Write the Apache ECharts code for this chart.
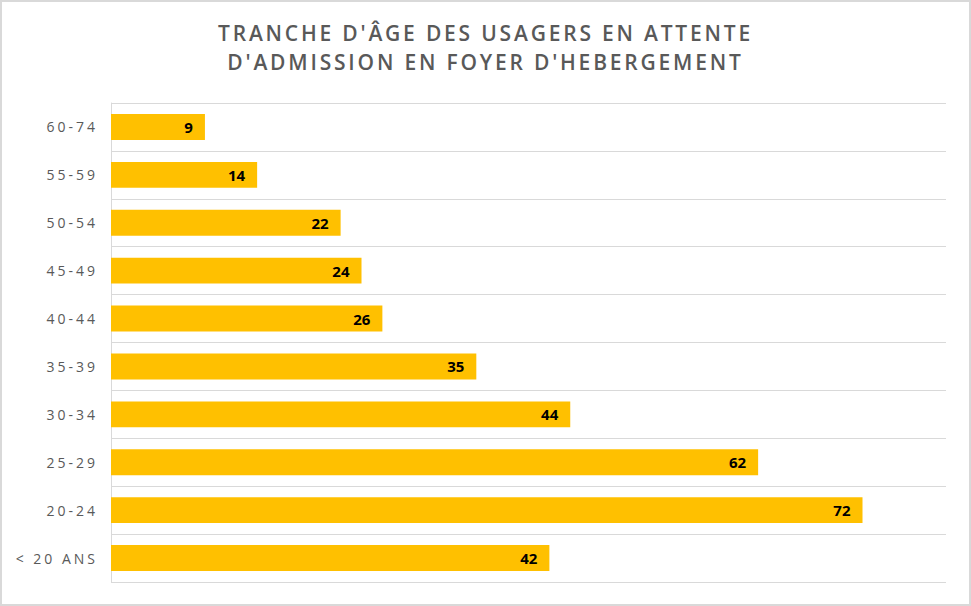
<!DOCTYPE html>
<html><head><meta charset="utf-8">
<script src="https://cdn.jsdelivr.net/npm/echarts@6/dist/echarts.min.js"></script>
<style>
html,body{margin:0;padding:0;background:#fff;}
#wrap{width:971px;height:606px;box-sizing:border-box;border:2px solid #d9d9d9;position:relative;}
#chart{position:absolute;left:-2px;top:-2px;width:971px;height:606px;}
</style></head>
<body><div id="wrap"><div id="chart"></div></div>
<script>
const titleLines = ["TRANCHE D'ÂGE DES USAGERS EN ATTENTE", "D'ADMISSION EN FOYER D'HEBERGEMENT"];
const categories = ["< 20 ANS", "20-24", "25-29", "30-34", "35-39", "40-44", "45-49", "50-54", "55-59", "60-74"];
const values = [42, 72, 62, 44, 35, 26, 24, 22, 14, 9];
const chart = echarts.init(document.getElementById('chart'), null, {renderer: 'svg'});
chart.setOption({
  backgroundColor: 'transparent',
  animation: false,
  title: {
    text: titleLines.join('\n'),
    left: 'center',
    top: 13,
    textStyle: {
      fontFamily: 'Open Sans',
      fontSize: 21,
      fontWeight: 600,
      color: '#595959',
      lineHeight: 29
    }
  },
  grid: {left: 111, right: 25, top: 103, bottom: 24, containLabel: false},
  xAxis: {
    type: 'value', min: 0, max: 80,
    axisLine: {show: false}, axisTick: {show: false}, axisLabel: {show: false}, splitLine: {show: false}
  },
  yAxis: {
    type: 'category',
    data: categories,
    axisLine: {show: true, lineStyle: {color: '#d9d9d9', width: 1}},
    axisTick: {show: false},
    splitLine: {show: true, lineStyle: {color: '#d9d9d9', width: 1}},
    axisLabel: {
      color: '#595959', fontFamily: 'Open Sans', fontSize: 14, margin: 13
    }
  },
  series: [{
    type: 'bar',
    data: values,
    barWidth: '54%',
    itemStyle: {color: '#FFC000'},
    label: {
      show: true, position: 'insideRight', distance: 12,
      color: '#000', fontWeight: 'bold', fontFamily: 'Open Sans', fontSize: 15
    }
  }]
});
function applySpacing() {
  document.querySelectorAll('#chart svg text').forEach(t => {
    const s = t.textContent;
    if (titleLines.includes(s)) t.style.letterSpacing = '2.8px';
    else if (categories.includes(s)) t.style.letterSpacing = '3px';
  });
}
applySpacing();
chart.on('finished', applySpacing);
</script></body></html>
